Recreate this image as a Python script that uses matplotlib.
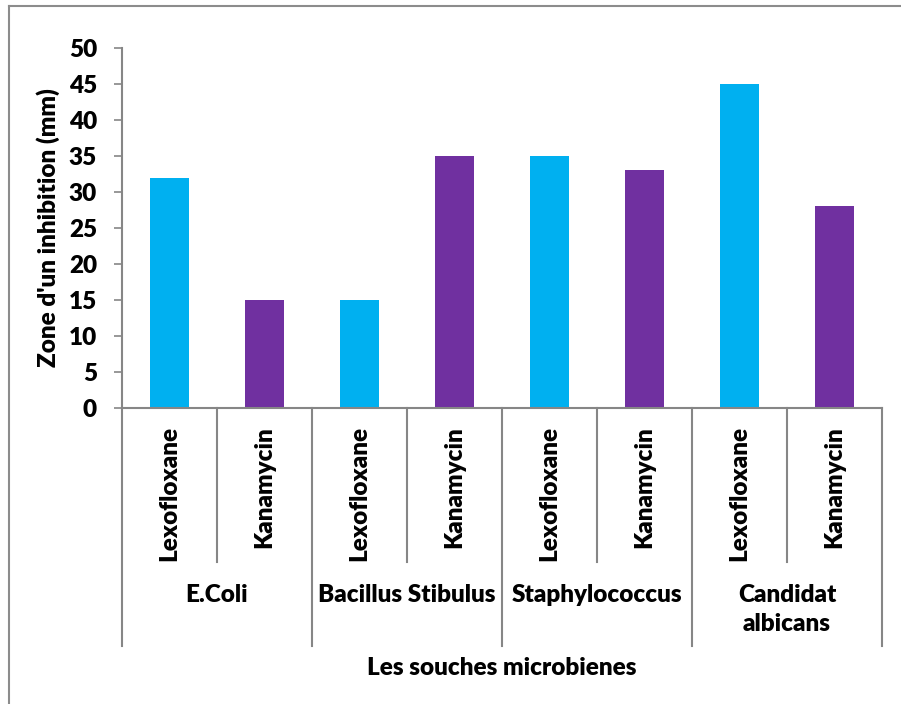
import matplotlib
matplotlib.use("Agg")
import matplotlib.pyplot as plt
from matplotlib.lines import Line2D
import matplotlib.transforms as mtransforms

# Data
groups = ["E.Coli", "Bacillus Stibulus", "Staphylococcus", "Candidat\nalbicans"]
antibiotics = ["Lexofloxane", "Kanamycin"]
lexofloxane = [32, 15, 35, 45]
kanamycin = [15, 35, 33, 28]
y_ticks = [0, 5, 10, 15, 20, 25, 30, 35, 40, 45, 50]

colors = {"Lexofloxane": "#00B0F0", "Kanamycin": "#7030A0"}
axis_color = "#868686"
font = "Lato"
fs = 17.5
fw = "heavy"

plt.rcParams["font.family"] = [font, "DejaVu Sans"]

W, H = 901, 704
fig = plt.figure(figsize=(W / 100, H / 100), dpi=100)
left, right, top, bottom = 122, 882, 48, 408
ax = fig.add_axes([left / W, 1 - bottom / H, (right - left) / W, (bottom - top) / H])

# Interleave series per group
values = []
labels = []
bar_colors = []
for i in range(len(groups)):
    for name, series in zip(antibiotics, [lexofloxane, kanamycin]):
        values.append(series[i])
        labels.append(name)
        bar_colors.append(colors[name])
xs = list(range(len(values)))
ax.bar(xs, values, width=0.42, color=bar_colors, zorder=2)

ax.set_xlim(-0.5, len(values) - 0.5)
ax.set_ylim(0, 50)
ax.set_yticks(y_ticks)
ax.set_yticklabels([str(v) for v in y_ticks], fontsize=fs, fontweight=fw)
ax.tick_params(axis="y", direction="out", length=6, width=1.2, color=axis_color, pad=12)
ax.set_xticks([])
for s in ["top", "right"]:
    ax.spines[s].set_visible(False)
for s in ["left", "bottom"]:
    ax.spines[s].set_color(axis_color)
    ax.spines[s].set_linewidth(1.5)

ax.set_ylabel("Zone d'un inhibition (mm)", fontsize=fs, fontweight=fw, labelpad=6)

# Multi-level category axis
trans = mtransforms.blended_transform_factory(ax.transData, ax.transAxes)
short_y = (bottom - 562) / (bottom - top)
long_y = (bottom - 646) / (bottom - top)
n_per = len(antibiotics)
for b in range(len(values) + 1):
    y_end = long_y if b % n_per == 0 else short_y
    ax.add_line(Line2D([b - 0.5, b - 0.5], [0, y_end], transform=trans,
                       color=axis_color, lw=1.5, clip_on=False))

cat_top = (bottom - 426) / (bottom - top)
for x, lab in zip(xs, labels):
    ax.text(x, cat_top, lab, transform=trans, rotation=90, ha="center", va="top",
            fontsize=fs, fontweight=fw)

grp_top = (bottom - 584) / (bottom - top)
for i, g in enumerate(groups):
    cx = i * n_per + (n_per - 1) / 2
    ax.text(cx, grp_top, g, transform=trans, ha="center", va="top",
            fontsize=fs, fontweight=fw, linespacing=1.38)

fig.text((left + right) / 2 / W, 1 - 668 / H, "Les souches microbienes",
         ha="center", va="center", fontsize=fs, fontweight=fw)

# Outer chart border
fig.add_artist(Line2D([9 / W, 1.0], [1 - 6 / H, 1 - 6 / H], transform=fig.transFigure,
                      color="#8C8C8C", lw=1.5))
fig.add_artist(Line2D([9 / W, 9 / W], [0, 1 - 6 / H], transform=fig.transFigure,
                      color="#8C8C8C", lw=1.5))

fig.savefig("out.png", dpi=100)
